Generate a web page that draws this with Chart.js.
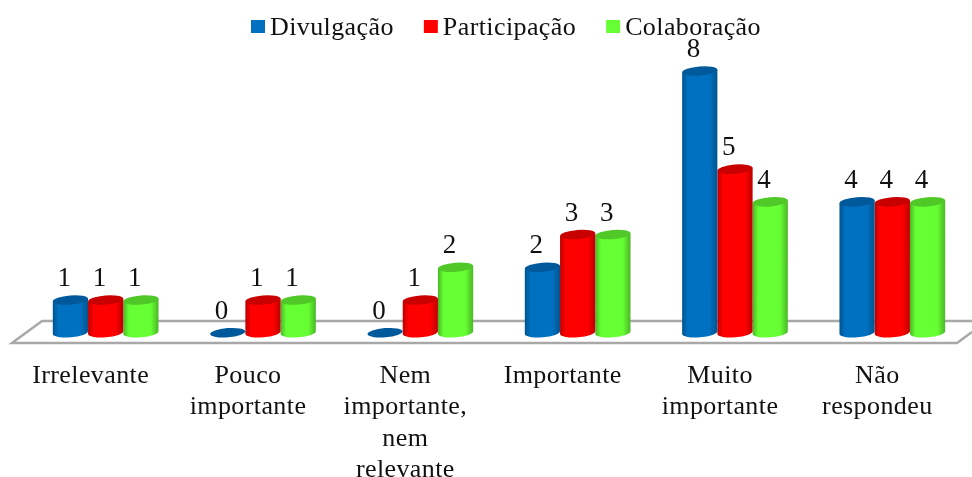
<!DOCTYPE html>
<html>
<head>
<meta charset="utf-8">
<style>
  html, body { margin: 0; padding: 0; background: #fff; overflow: hidden; }
  #wrap { width: 972px; height: 477px; }
</style>
<script src="https://cdn.jsdelivr.net/npm/chart.js@4/dist/chart.umd.min.js"></script>
</head>
<body>
<div id="wrap"><canvas id="myChart"></canvas></div>
<script>
"use strict";

// DATA
const categories = [
  "Irrelevante",
  ["Pouco", "importante"],
  ["Nem", "importante,", "nem", "relevante"],
  "Importante",
  ["Muito", "importante"],
  ["Não", "respondeu"],
];
const divulgacao = [1, 0, 0, 2, 8, 4];
const participacao = [1, 1, 1, 3, 5, 4];
const colaboracao = [1, 1, 2, 3, 4, 4];

const FONT = '"Liberation Serif", "Times New Roman", serif';
const TEXT = "#111";

// dark edge + top cap colours for each series
const shades = {
  "#0070C0": { edge: "#00548f", cap: "#00599a" },
  "#FF0000": { edge: "#bc0000", cap: "#c80000" },
  "#66FF33": { edge: "#49b626", cap: "#50c828" },
};

const TILT = -0.08;
const CAP_RY = 4.6;

// BAR CONTROLLER THAT DRAWS CYLINDERS
class CylinderController extends Chart.BarController {
  draw() {
    const ctx = this.chart.ctx;
    const meta = this._cachedMeta;
    const color = this.getDataset().backgroundColor;
    const shade = shades[color];

    meta.data.forEach((bar) => {
      const rx = bar.width / 2;
      const left = bar.x - rx;
      const right = bar.x + rx;
      const dy = Math.sin(-TILT) * rx;

      ctx.save();
      if (bar.base - bar.y > 1) {
        const grad = ctx.createLinearGradient(left, 0, right, 0);
        grad.addColorStop(0, shade.edge);
        grad.addColorStop(0.16, color);
        grad.addColorStop(0.78, color);
        grad.addColorStop(1, shade.edge);
        ctx.fillStyle = grad;
        ctx.beginPath();
        ctx.moveTo(left, bar.y + dy);
        ctx.lineTo(left, bar.base + dy);
        ctx.ellipse(bar.x, bar.base, rx, CAP_RY, TILT, Math.PI, 0, true);
        ctx.lineTo(right, bar.y - dy);
        ctx.closePath();
        ctx.fill();
      }
      ctx.fillStyle = shade.cap;
      ctx.beginPath();
      ctx.ellipse(bar.x, bar.y, rx, CAP_RY, TILT, 0, Math.PI * 2);
      ctx.fill();
      ctx.restore();
    });
  }
}
CylinderController.id = "cylinder";
CylinderController.defaults = Chart.BarController.defaults;
CylinderController.overrides = Chart.BarController.overrides;
Chart.register(CylinderController);

// text in the original is a little wider than the font
const spacingPlugin = {
  id: "spacing",
  beforeDraw(chart) {
    chart.ctx.letterSpacing = "0.4px";
  },
};

// grey floor the bars stand on
const floorPlugin = {
  id: "floor",
  beforeDatasetsDraw(chart) {
    const ctx = chart.ctx;
    ctx.save();
    ctx.strokeStyle = "#a8a8a8";
    ctx.lineWidth = 2.5;
    ctx.beginPath();
    ctx.moveTo(972, 321);
    ctx.lineTo(42, 321);
    ctx.lineTo(12, 343);
    ctx.lineTo(957, 343);
    ctx.lineTo(972, 332);
    ctx.stroke();
    ctx.restore();
  },
};

// value labels above each cylinder
const valuePlugin = {
  id: "values",
  afterDatasetsDraw(chart) {
    const ctx = chart.ctx;
    ctx.save();
    ctx.font = "27px " + FONT;
    ctx.fillStyle = TEXT;
    ctx.textAlign = "center";
    ctx.textBaseline = "alphabetic";
    chart.data.datasets.forEach((ds, i) => {
      chart.getDatasetMeta(i).data.forEach((bar, j) => {
        ctx.fillText(ds.data[j], bar.x - 6, bar.y - 14);
      });
    });
    ctx.restore();
  },
};

// legend with the tight box/text gap of the original
const legendPlugin = {
  id: "topLegend",
  afterDraw(chart) {
    const ctx = chart.ctx;
    let x = 251;
    ctx.save();
    ctx.font = "26px " + FONT;
    ctx.textAlign = "left";
    ctx.textBaseline = "alphabetic";
    chart.data.datasets.forEach((ds) => {
      ctx.fillStyle = ds.backgroundColor;
      ctx.fillRect(x, 20, 14, 13);
      ctx.fillStyle = TEXT;
      ctx.fillText(ds.label, x + 19, 35);
      x += 19 + ctx.measureText(ds.label).width + 30;
    });
    ctx.restore();
  },
};

// CHART JS
const chart = new Chart(document.getElementById("myChart"), {
  type: "cylinder",
  data: {
    labels: categories,
    datasets: [
      { label: "Divulgação", data: divulgacao, backgroundColor: "#0070C0" },
      { label: "Participação", data: participacao, backgroundColor: "#FF0000" },
      { label: "Colaboração", data: colaboracao, backgroundColor: "#66FF33" },
    ],
  },
  plugins: [spacingPlugin, floorPlugin, valuePlugin, legendPlugin],
  options: {
    responsive: true,
    maintainAspectRatio: false,
    animation: false,
    clip: false,
    layout: { padding: { top: 71, left: 27, right: 1, bottom: 0 } },
    categoryPercentage: 0.672,
    barPercentage: 1,
    plugins: {
      legend: { display: false },
      tooltip: { enabled: false },
    },
    scales: {
      x: {
        grid: { display: false },
        border: { display: false },
        ticks: {
          color: TEXT,
          font: { family: FONT, size: 26 },
          padding: 20,
          labelOffset: -15,
          maxRotation: 0,
          autoSkip: false,
        },
        afterFit(scale) {
          scale.height = 144.3;
        },
      },
      y: {
        display: false,
        min: 0,
        max: 8,
      },
    },
  },
});
</script>
</body>
</html>
